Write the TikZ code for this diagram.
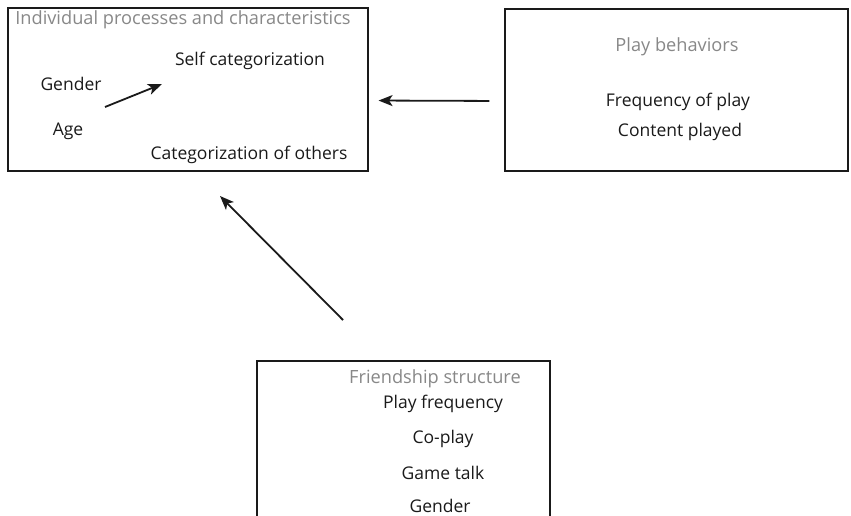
\documentclass[tikz,border=0pt]{standalone}
\usepackage{fontspec}
\setmainfont{Open Sans}
\usetikzlibrary{arrows.meta}
\definecolor{titlegray}{HTML}{888888}
\definecolor{ink}{HTML}{1A1A1A}
\tikzset{
  box/.style={draw=ink, line width=1.1pt, rectangle, inner sep=0pt},
  ttl/.style={font=\fontsize{18.2}{20}\selectfont, text=titlegray, inner sep=0pt, anchor=center},
  itm/.style={font=\fontsize{17.5}{19}\selectfont, text=ink, inner sep=0pt, anchor=center},
  arr/.style={draw=ink, line width=1.8pt, -{Stealth[length=14pt,width=11pt,inset=3.5pt]}}
}
\begin{document}
\begin{tikzpicture}[x=1pt,y=-1pt]
\useasboundingbox (0,0) rectangle (851,516);
\clip (0,0) rectangle (851,516);
\fill[white] (0,0) rectangle (851,516);
% boxes
\node[box, minimum width=360pt, minimum height=163pt] (ind) at (188,89.5) {};
\node[box, minimum width=343pt, minimum height=162pt] (pb) at (676.5,90) {};
\node[box, minimum width=293pt, minimum height=180pt] (fs) at (403.5,451) {};
% box 1 texts
\node[ttl] (indt) at (183,19.5) {Individual processes and characteristics};
\node[itm] (self) at (250,61) {Self categorization};
\node[itm] (gen) at (71,84) {Gender};
\node[itm] (age) at (68,131) {Age};
\node[itm] (cat) at (249,155) {Categorization of others};
% box 2 texts
\node[ttl] (pbt) at (677,47) {Play behaviors};
\node[itm] (freq) at (678,102) {Frequency of play};
\node[itm] (cont) at (680,132) {Content played};
% box 3 texts
\node[ttl] (fst) at (435,379) {Friendship structure};
\node[itm] (pf) at (443,404) {Play frequency};
\node[itm] (cop) at (443,439) {Co-play};
\node[itm] (gt) at (443,473) {Game talk};
\node[itm] (g2) at (440,506) {Gender};
% connectors
\coordinate (sa) at (105,107);
\coordinate (sb) at (162,84);
\draw[arr] (sa) -- (sb);
\draw[arr, shorten <=15pt, shorten >=10pt] ([yshift=-11pt]pb.west) -- ([yshift=-11pt]ind.east);
\coordinate (fa) at (343,320);
\coordinate (fb) at (220,196);
\draw[arr] (fa) -- (fb);
\end{tikzpicture}
\end{document}
